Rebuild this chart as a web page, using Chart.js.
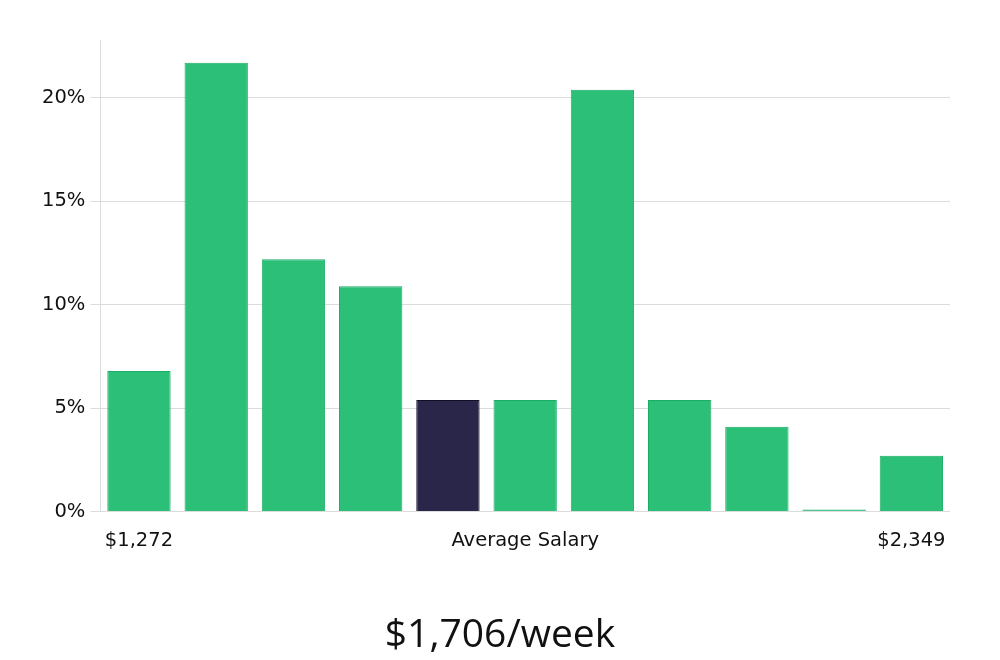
<!DOCTYPE html>
<html>
<head>
<meta charset="utf-8">
<script src="https://cdn.jsdelivr.net/npm/chart.js@4/dist/chart.umd.min.js"></script>
<style>
  body { margin: 0; background: #fff; }
  #wrap { width: 1000px; height: 660px; }
</style>
</head>
<body>
<div id="wrap"><canvas id="salaryChart"></canvas></div>
<script>
const labels = ["$1,272", "", "", "", "", "Average Salary", "", "", "", "", "$2,349"];
const shares = [6.8, 21.7, 12.2, 10.9, 5.4, 5.4, 20.4, 5.4, 4.1, 0, 2.7];
const highlightIndex = 4;
const yTicks = [0, 5, 10, 15, 20];
const title = "$1,706/week";

const green = "#2bbf78";
const greenBorder = "#1aad66";
const navy = "#29264a";
const navyBorder = "#121024";

const tickFont = { family: "'DejaVu Sans', sans-serif", size: 19.5 };

// big caption under the chart, centred on the whole canvas
const bottomTitle = {
    id: "bottomTitle",
    afterDraw(chart) {
        const c = chart.ctx;
        c.save();
        c.font = "39px 'Open Sans', sans-serif";
        c.fillStyle = "#111";
        c.textAlign = "center";
        c.textBaseline = "middle";
        c.fillText(title, chart.width / 2, chart.height - 24);
        c.restore();
    }
};

const ctx = document.getElementById("salaryChart").getContext("2d");
new Chart(ctx, {
    type: "bar",
    data: {
        labels: labels,
        datasets: [{
            data: shares,
            backgroundColor: shares.map((v, i) => i === highlightIndex ? navy : green),
            borderColor: shares.map((v, i) => i === highlightIndex ? navyBorder : greenBorder),
            borderWidth: 1,
            minBarLength: 2,
            barPercentage: 1,
            categoryPercentage: 0.82
        }]
    },
    options: {
        responsive: true,
        maintainAspectRatio: false,
        animation: false,
        layout: { padding: { left: 37, right: 50, top: 40, bottom: 97 } },
        scales: {
            x: {
                grid: { display: false },
                border: { display: false },
                ticks: {
                    autoSkip: false,
                    maxRotation: 0,
                    padding: 10,
                    color: "#111",
                    font: tickFont
                }
            },
            y: {
                min: 0,
                max: 22.8,
                afterBuildTicks: (scale) => {
                    scale.ticks = yTicks.map(v => ({ value: v }));
                },
                grid: { color: "#dcdcdc", tickLength: 10 },
                border: { color: "#dcdcdc" },
                ticks: {
                    padding: 5,
                    color: "#111",
                    font: tickFont,
                    callback: (v) => v + "%"
                }
            }
        },
        plugins: {
            legend: { display: false },
            tooltip: { enabled: false }
        }
    },
    plugins: [bottomTitle]
});
</script>
</body>
</html>
